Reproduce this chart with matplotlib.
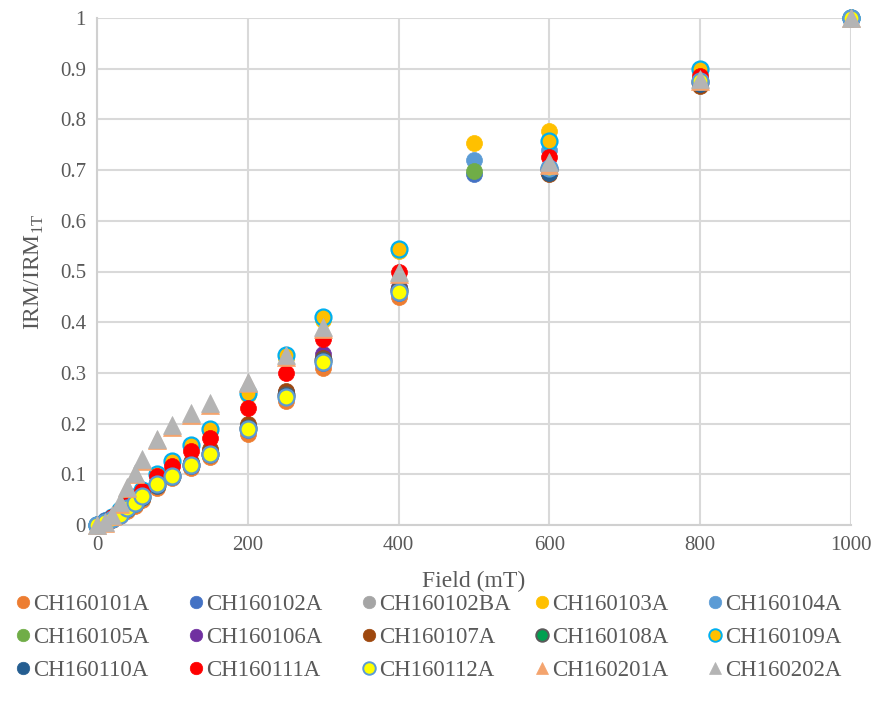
import matplotlib
matplotlib.use("Agg")
import matplotlib.pyplot as plt
from matplotlib.lines import Line2D

plt.rcParams['font.family'] = ['Liberation Serif', 'DejaVu Serif']
plt.rcParams['mathtext.fontset'] = 'custom'
plt.rcParams['mathtext.rm'] = 'Liberation Serif'

fields = [0, 10, 20, 30, 40, 50, 60, 80, 100, 125, 150, 200, 250, 300, 400, 600, 800, 1000]
fields500 = [0, 10, 20, 30, 40, 50, 60, 80, 100, 125, 150, 200, 250, 300, 400, 500, 600, 800, 1000]

names = ["CH160101A", "CH160102A", "CH160102BA", "CH160103A", "CH160104A",
         "CH160105A", "CH160106A", "CH160107A", "CH160108A", "CH160109A",
         "CH160110A", "CH160111A", "CH160112A", "CH160201A", "CH160202A"]

v101 = [0, 0.004, 0.010, 0.018, 0.028, 0.038, 0.050, 0.073, 0.092, 0.112, 0.134, 0.180, 0.245, 0.310, 0.450, 0.695, 0.868, 1]
v102 = [0, 0.010, 0.012, 0.020, 0.031, 0.042, 0.054, 0.077, 0.095, 0.117, 0.140, 0.188, 0.252, 0.320, 0.458, 0.692, 0.698, 0.870, 1]
v102b = [0, 0.005, 0.011, 0.020, 0.031, 0.042, 0.054, 0.078, 0.095, 0.118, 0.140, 0.190, 0.255, 0.325, 0.462, 0.700, 0.872, 1]
v103 = [0, 0.006, 0.014, 0.028, 0.040, 0.053, 0.068, 0.098, 0.124, 0.155, 0.186, 0.256, 0.330, 0.405, 0.540, 0.753, 0.778, 0.895, 1]
v104 = [0, 0.005, 0.012, 0.021, 0.033, 0.044, 0.056, 0.079, 0.096, 0.118, 0.141, 0.190, 0.255, 0.325, 0.462, 0.720, 0.740, 0.880, 1]
v105 = [0, 0.005, 0.012, 0.021, 0.032, 0.043, 0.055, 0.078, 0.096, 0.118, 0.140, 0.190, 0.254, 0.323, 0.460, 0.698, 0.705, 0.872, 1]
v106 = [0, 0.005, 0.012, 0.021, 0.033, 0.044, 0.056, 0.080, 0.098, 0.121, 0.145, 0.195, 0.262, 0.337, 0.470, 0.700, 0.872, 1]
v107 = [0, 0.005, 0.012, 0.022, 0.035, 0.047, 0.060, 0.085, 0.100, 0.125, 0.150, 0.200, 0.265, 0.330, 0.465, 0.692, 0.866, 1]
v108 = [0, 0.005, 0.012, 0.021, 0.033, 0.044, 0.056, 0.079, 0.096, 0.118, 0.141, 0.191, 0.256, 0.326, 0.464, 0.702, 0.873, 1]
v109 = [0, 0.006, 0.015, 0.030, 0.042, 0.055, 0.070, 0.100, 0.127, 0.158, 0.190, 0.260, 0.335, 0.410, 0.545, 0.757, 0.900, 1]
v110 = [0, 0.008, 0.012, 0.021, 0.032, 0.043, 0.055, 0.078, 0.096, 0.118, 0.141, 0.190, 0.255, 0.324, 0.460, 0.695, 0.870, 1]
v111 = [0, 0.005, 0.015, 0.028, 0.040, 0.052, 0.068, 0.097, 0.117, 0.145, 0.172, 0.230, 0.300, 0.367, 0.500, 0.725, 0.885, 1]
v112 = [0, 0.005, 0.012, 0.020, 0.033, 0.044, 0.057, 0.080, 0.097, 0.118, 0.140, 0.190, 0.253, 0.322, 0.460, 0.705, 0.875, 1]
v201 = [0, 0.004, 0.018, 0.042, 0.072, 0.100, 0.127, 0.167, 0.194, 0.217, 0.237, 0.280, 0.331, 0.386, 0.496, 0.711, 0.876, 1]
v202 = [0, 0.005, 0.020, 0.045, 0.075, 0.103, 0.130, 0.170, 0.197, 0.220, 0.240, 0.283, 0.335, 0.390, 0.500, 0.715, 0.880, 1]

series_x = [fields, fields500, fields, fields500, fields500,
            fields500, fields, fields, fields, fields,
            fields, fields, fields, fields, fields]
series_y = [v101, v102, v102b, v103, v104, v105, v106, v107, v108, v109,
            v110, v111, v112, v201, v202]

faces = ["#ED7D31", "#4472C4", "#A5A5A5", "#FFC000", "#5B9BD5",
         "#70AD47", "#7030A0", "#9E480E", "#00A050", "#FFC000",
         "#255E91", "#FF0000", "#FFFF00", "#F4A46E", "#B4B4B4"]
edges = ["#ED7D31", "#4472C4", "#A5A5A5", "#FFC000", "#5B9BD5",
         "#70AD47", "#7030A0", "#9E480E", "#5A5A5A", "#00B0F0",
         "#255E91", "#FF0000", "#5B9BD5", "#F4A46E", "#B4B4B4"]
markers = ["o"] * 13 + ["^", "^"]

fig = plt.figure(figsize=(8.76, 7.04), dpi=100)
ax = fig.add_axes([97 / 876, 1 - 525 / 704, (851 - 97) / 876, (525 - 18) / 704])

for i in range(len(names)):
    ms = 11.5 if markers[i] == "o" else 12.5
    ax.plot(series_x[i], series_y[i], linestyle="none", marker=markers[i],
            markersize=ms, markerfacecolor=faces[i], markeredgecolor=edges[i],
            markeredgewidth=1.6 if edges[i] != faces[i] else 0.5,
            clip_on=False, zorder=3 + i, label=names[i])

ax.set_xlim(0, 1000)
ax.set_ylim(0, 1)
ax.set_xticks([0, 200, 400, 600, 800, 1000])
ax.set_yticks([0, 0.1, 0.2, 0.3, 0.4, 0.5, 0.6, 0.7, 0.8, 0.9, 1.0])
ax.set_yticklabels(["0", "0.1", "0.2", "0.3", "0.4", "0.5", "0.6", "0.7", "0.8", "0.9", "1"])
ax.grid(True, color="#D9D9D9", linewidth=1.5)
ax.set_axisbelow(True)
for s in ["top", "right"]:
    ax.spines[s].set_visible(False)
for s in ["left", "bottom"]:
    ax.spines[s].set_color("#D0D0D0")
    ax.spines[s].set_linewidth(1.5)
ax.tick_params(length=0, labelsize=15, labelcolor="#595959", pad=8)
ax.set_xlabel("Field (mT)", fontsize=17, color="#595959", labelpad=11)
ax.set_ylabel(r"IRM/IRM$_{\mathregular{1T}}$", fontsize=17, color="#595959", labelpad=10)

# legend: 5 columns placed evenly, 3 rows, row-major order
col_x_px = [16, 189, 362, 535, 708]
for c in range(5):
    idx = [c, c + 5, c + 10]
    hs = [Line2D([], [], linestyle="none", marker=markers[k], markersize=9,
                 markerfacecolor=faces[k], markeredgecolor=edges[k],
                 markeredgewidth=1.4 if edges[k] != faces[k] else 0.5) for k in idx]
    fig.legend(hs, [names[k] for k in idx], loc="upper left",
               bbox_to_anchor=(col_x_px[c] / 876, 1 - 594 / 704),
               frameon=False, fontsize=16.5, handlelength=0.6, handletextpad=0.15,
               labelspacing=0.52, borderpad=0, borderaxespad=0,
               labelcolor="#595959")

fig.savefig("out.png", dpi=100)
